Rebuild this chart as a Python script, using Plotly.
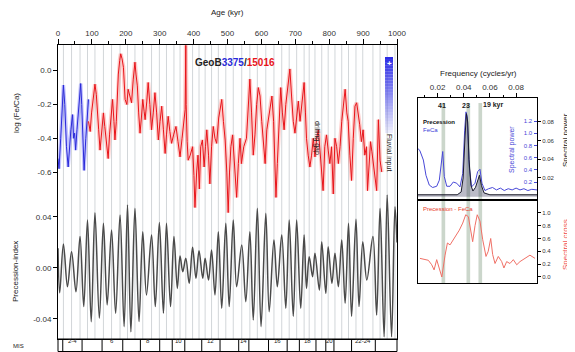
import plotly.graph_objects as go

# the page shows the figure with an 8 px body margin, so the figure fills the remaining area
OFF = 8
W, H = 575 - OFF, 352 - OFF

# ---------------- data ----------------
blue_age = [0, 3, 8, 13, 16, 20, 25, 30, 35, 38, 43, 46, 49, 52, 56, 60, 64, 67, 70, 74, 77, 82, 86, 90]
blue_val = [-0.52, -0.58, -0.40, -0.17, -0.085, -0.20, -0.45, -0.57, -0.42, -0.35, -0.26, -0.40, -0.37, -0.47,
            -0.35, -0.25, -0.14, -0.076, -0.20, -0.45, -0.59, -0.40, -0.25, -0.17]

red_age = [90, 95, 99, 104, 109, 113, 116, 120, 124, 128, 134, 138, 142, 148, 152, 156, 161, 165, 168, 172,
           178, 182, 185, 189, 193, 198, 203, 207, 212, 217, 222, 227, 230, 234, 238, 242, 246, 250, 254, 257,
           262, 266, 271, 276, 281, 286, 291, 296, 301, 306, 311, 316, 320, 325, 330, 335, 341, 348, 354, 360,
           366, 371, 375, 377, 378, 381, 384, 390, 397, 401, 404, 409, 413, 417, 421, 426, 431, 435, 439, 444,
           448, 453, 458, 463, 468, 474, 479, 483, 488, 493, 498, 502, 506, 510, 515, 520, 527, 532, 537, 541,
           548, 556, 562, 566, 571, 576, 581, 586, 591, 596, 601, 606, 611, 616, 621, 626, 631, 636, 640, 643,
           647, 652, 657, 662, 667, 672, 679, 684, 689, 694, 699, 704, 709, 714, 719, 726, 730, 733, 738, 743,
           748, 753, 758, 763, 768, 772, 777, 782, 787, 792, 797, 802, 807, 812, 817, 822, 827, 832, 837, 842,
           847, 852, 856, 861, 866, 871, 876, 881, 886, 890, 895, 900, 905, 910, 913, 918, 922, 926, 930, 935,
           940, 945, 950, 955]
red_val = [-0.30, -0.36, -0.25, -0.15, -0.08, -0.14, -0.21, -0.35, -0.47, -0.38, -0.25, -0.33, -0.41, -0.52,
           -0.38, -0.26, -0.17, -0.30, -0.41, -0.30, -0.02, 0.06, 0.10, 0.07, 0.02, -0.17, -0.20, -0.11, -0.15,
           -0.19, -0.05, 0.05, -0.02, -0.09, -0.25, -0.37, -0.28, -0.17, -0.24, -0.29, -0.18, -0.07, -0.20,
           -0.35, -0.25, -0.13, -0.25, -0.41, -0.30, -0.21, -0.35, -0.49, -0.38, -0.27, -0.36, -0.43, -0.38,
           -0.33, -0.42, -0.51, -0.40, -0.30, -0.23, 0.15, -0.20, -0.42, -0.53, -0.50, -0.45, -0.62, -0.81,
           -0.60, -0.50, -0.70, -0.45, -0.41, -0.57, -0.45, -0.35, -0.50, -0.67, -0.45, -0.33, -0.40, -0.43,
           -0.28, -0.22, -0.17, -0.30, -0.41, -0.60, -0.84, -0.60, -0.45, -0.38, -0.55, -0.75, -0.55, -0.40,
           -0.55, -0.45, -0.40, -0.20, -0.05, -0.25, -0.50, -0.38, -0.20, -0.10, -0.15, -0.30, -0.45, -0.55,
           -0.35, -0.28, -0.20, -0.15, -0.30, -0.55, -0.75, -0.55, -0.30, -0.10, -0.25, -0.35, -0.20, -0.05,
           0.01, -0.15, -0.30, -0.37, -0.25, -0.18, -0.30, -0.20, -0.07, -0.25, -0.40, -0.50, -0.57, -0.50,
           -0.40, -0.51, -0.40, -0.35, -0.45, -0.55, -0.71, -0.45, -0.38, -0.47, -0.55, -0.45, -0.73, -0.40,
           -0.45, -0.55, -0.45, -0.30, -0.18, -0.11, -0.25, -0.30, -0.50, -0.65, -0.40, -0.21, -0.19, -0.25,
           -0.32, -0.42, -0.35, -0.50, -0.45, -0.71, -0.55, -0.42, -0.48, -0.55, -0.60, -0.71, -0.29, -0.53,
           -0.60]

prec_age = [0, 5, 16, 28, 40, 53, 65, 76, 87, 98, 109, 122, 134, 145, 158, 170, 183, 195, 205, 215, 227, 239,
            250, 261, 276, 287, 299, 311, 320, 332, 342, 352, 360, 368, 377, 387, 397, 407, 416, 427, 434, 444,
            453, 463, 473, 483, 495, 505, 517, 527, 542, 554, 566, 576, 588, 599, 613, 623, 637, 647, 660, 672,
            682, 694, 704, 716, 726, 733, 741, 751, 758, 771, 778, 790, 797, 808, 817, 827, 837, 847, 857, 866,
            879, 888, 899, 911, 929, 940, 950, 962, 971, 984, 994, 1000]
prec_val = [0.0154, -0.0194, 0.0188, -0.0147, 0.0128, -0.0186, 0.0246, -0.0303, 0.0376, -0.0421, 0.0434,
            -0.0395, 0.035, -0.029, 0.0298, -0.0356, 0.0416, -0.046, 0.0494, -0.050, 0.0468, -0.042, 0.0285,
            -0.0212, 0.0259, -0.0303, 0.0356, -0.0356, 0.035, -0.0303, 0.0246, -0.016, 0.0094, -0.0029, 0.0076,
            -0.012, 0.0162, -0.0081, 0.0136, -0.0081, 0.0076, -0.0094, 0.0141, -0.0212, 0.0285, -0.0316, 0.035,
            -0.0303, 0.0376, -0.0147, 0.018, -0.0264, 0.0285, -0.0408, 0.0468, -0.046, 0.0429, -0.0343, 0.022,
            -0.0147, 0.0259, -0.0316, 0.0376, -0.038, 0.0376, -0.0316, 0.0259, -0.016, 0.0089, -0.0068, 0.0115,
            -0.0173, 0.0206, -0.0199, 0.0167, -0.012, 0.0115, -0.0147, 0.022, -0.0277, 0.035, -0.038, 0.0382,
            -0.0303, 0.0206, -0.0094, 0.0246, -0.0369, 0.0468, -0.054, 0.0573, -0.054, 0.048, 0.02]

mis_bounds = [14, 71, 130, 191, 243, 300, 337, 374, 424, 478, 533, 563, 621, 676, 712, 761, 790, 814, 866, 936]
mis_labels = ["2-4", "6", "8", "10", "12", "14", "16", "18", "20", "22-24"]
mis_label_age = [42, 160, 265, 355, 451, 548, 648, 736, 802, 901]

age_ticks = [0, 100, 200, 300, 400, 500, 600, 700, 800, 900, 1000]

# spectral panel
feca_f = [0.005, 0.0065, 0.0091, 0.0111, 0.0136, 0.0162, 0.0193, 0.0213, 0.0239, 0.0251, 0.027, 0.0295, 0.032,
          0.0346, 0.0371, 0.0392, 0.0407, 0.0417, 0.0427, 0.0442, 0.046, 0.0486, 0.0506, 0.0524, 0.0539, 0.0562,
          0.059, 0.062, 0.065, 0.068, 0.071, 0.074, 0.077, 0.080, 0.083, 0.086, 0.089, 0.092, 0.096]
feca_p = [0.75, 0.71, 0.56, 0.31, 0.15, 0.11, 0.13, 0.23, 0.70, 0.29, 0.13, 0.13, 0.20, 0.18, 0.12, 0.34, 1.05,
          1.35, 1.27, 0.45, 0.12, 0.18, 0.37, 0.41, 0.18, 0.06, 0.09, 0.11, 0.07, 0.10, 0.06, 0.09, 0.07, 0.10,
          0.07, 0.09, 0.06, 0.08, 0.07]
prec_f = [0.005, 0.02, 0.035, 0.038, 0.0395, 0.041, 0.042, 0.043, 0.044, 0.0455, 0.047, 0.049, 0.0505, 0.052,
          0.0535, 0.0555, 0.06, 0.096]
prec_p = [0.002, 0.002, 0.002, 0.005, 0.02, 0.065, 0.089, 0.08, 0.04, 0.012, 0.006, 0.01, 0.018, 0.023, 0.012,
          0.004, 0.002, 0.002]
coh_f = [0.0065, 0.0104, 0.0129, 0.0155, 0.0173, 0.0193, 0.0213, 0.0232, 0.0257, 0.0275, 0.0295, 0.032, 0.0346,
         0.0366, 0.0392, 0.0415, 0.0435, 0.0453, 0.0468, 0.0486, 0.0503, 0.0524, 0.0545, 0.057, 0.0587, 0.0606,
         0.0621, 0.0639, 0.0664, 0.069, 0.0707, 0.0728, 0.0753, 0.0779, 0.0805, 0.083, 0.0868, 0.0906, 0.0945]
coh_v = [0.29, 0.27, 0.26, 0.19, 0.11, 0.27, 0.14, 0.0, 0.34, 0.53, 0.50, 0.58, 0.68, 0.73, 0.84, 0.97, 0.94,
         0.73, 0.55, 0.80, 0.97, 0.87, 0.58, 0.32, 0.40, 0.60, 0.35, 0.21, 0.32, 0.24, 0.14, 0.24, 0.21, 0.27,
         0.19, 0.24, 0.29, 0.34, 0.29]
band_periods = [41, 23, 19]
freq_ticks = [0.02, 0.04, 0.06, 0.08]

# ---------------- helpers (screen pixel -> paper) ----------------
def px(x):
    return (x - OFF) / W

def py(y):
    return 1 - (y - OFF) / H

FONT = "Liberation Sans, Arial, sans-serif"
main_dom_x = [px(58), px(397)]
main_dom_y = [py(339), py(45)]

fig = go.Figure()

# Fe/Ca
fig.add_trace(go.Scatter(x=blue_age, y=blue_val, mode="lines", line=dict(color="rgba(60,60,255,0.3)", width=3.5),
                         xaxis="x", yaxis="y", hoverinfo="skip", showlegend=False))
fig.add_trace(go.Scatter(x=blue_age, y=blue_val, mode="lines", line=dict(color="#2a2ad8", width=1),
                         xaxis="x", yaxis="y", showlegend=False))
fig.add_trace(go.Scatter(x=red_age, y=red_val, mode="lines", line=dict(color="rgba(255,70,60,0.28)", width=4),
                         xaxis="x", yaxis="y", hoverinfo="skip", showlegend=False))
fig.add_trace(go.Scatter(x=red_age, y=red_val, mode="lines", line=dict(color="#e8141a", width=1),
                         xaxis="x", yaxis="y", showlegend=False))
# precession
fig.add_trace(go.Scatter(x=prec_age, y=prec_val, mode="lines", line=dict(color="#4a4a4a", width=1.5, shape="spline",
                         smoothing=1.0), xaxis="x", yaxis="y2", showlegend=False))

# spectra
fig.add_trace(go.Scatter(x=feca_f, y=feca_p, mode="lines", line=dict(color="#4848d8", width=1),
                         xaxis="x2", yaxis="y3", showlegend=False))
fig.add_trace(go.Scatter(x=prec_f, y=prec_p, mode="lines", line=dict(color="#1a1a2a", width=1),
                         fill="tozeroy", fillcolor="rgba(30,30,70,0.3)",
                         xaxis="x2", yaxis="y4", showlegend=False))
fig.add_trace(go.Scatter(x=coh_f, y=coh_v, mode="lines", line=dict(color="#f07066", width=1),
                         xaxis="x3", yaxis="y5", showlegend=False))

shapes = []
# vertical guide lines at precession maxima
for i in range(1, len(prec_age) - 1):
    if prec_val[i] > prec_val[i - 1] and prec_val[i] > prec_val[i + 1]:
        shapes.append(dict(type="line", xref="x", yref="paper", x0=prec_age[i], x1=prec_age[i],
                           y0=main_dom_y[0], y1=main_dom_y[1], line=dict(color="#d2d6d9", width=1), layer="below"))
# spectral bands
for p in band_periods:
    f = 1.0 / p
    shapes.append(dict(type="rect", xref="x2", yref="paper", x0=f - 0.0014, x1=f + 0.0014,
                       y0=py(283), y1=py(103), fillcolor="rgba(140,165,140,0.45)", line=dict(width=0), layer="below"))
# MIS row
shapes.append(dict(type="rect", xref="paper", yref="paper", x0=main_dom_x[0], x1=main_dom_x[1], y0=py(351.5),
                   y1=py(339), line=dict(color="black", width=1)))
for b in mis_bounds:
    shapes.append(dict(type="line", xref="x", yref="paper", x0=b, x1=b, y0=py(351.5), y1=py(339),
                       line=dict(color="black", width=1)))
# fluvial input gradient bar
n = 26
top, bot = 57, 133
for i in range(n):
    y0 = top + (bot - top) * i / n
    y1 = top + (bot - top) * (i + 1) / n
    a = 0.95 * (1 - i / n) + 0.05
    shapes.append(dict(type="rect", xref="paper", yref="paper", x0=px(385), x1=px(393), y0=py(y1), y1=py(y0),
                       fillcolor=f"rgba(45,45,230,{a:.3f})", line=dict(width=0)))

ann = []
def A(text, x, y, size=8, color="#222", angle=0, xanchor="center", yanchor="middle", bold=False):
    if bold:
        text = f"<b>{text}</b>"
    ann.append(dict(text=text, x=px(x), y=py(y), xref="paper", yref="paper", showarrow=False,
                    font=dict(size=size, color=color, family=FONT), textangle=angle,
                    xanchor=xanchor, yanchor=yanchor))

A("Age (kyr)", 227, 12, 8)
A("log (Fe/Ca)", 16, 113, 8, angle=-90)
A("Precession-index", 15, 272, 8, angle=-90)
A("GeoB<span style='color:#2a2ad8'>3375</span>/<span style='color:#e8141a'>15016</span>", 193, 62, 10,
  color="#222", xanchor="left", bold=True)
A("drilling gap", 317, 138, 7, angle=90)
A("+", 389, 63, 8, color="white", bold=True)
A("Fluvial input", 389, 152, 7, angle=90)
A("MIS", 18, 345.5, 6)
for lab, ag in zip(mis_labels, mis_label_age):
    ann.append(dict(text=lab, x=ag, y=py(345.5), xref="x", yref="paper", showarrow=False,
                    font=dict(size=6, color="#222", family=FONT)))

A("Frequency (cycles/yr)", 478, 73, 8)
A("41", 442, 105, 7, bold=True)
A("23", 466, 105, 7, bold=True)
A("19 kyr", 481, 105, 7, xanchor="left", bold=True)
A("Precession", 421, 122, 6, color="#111", xanchor="left", bold=True)
A("FeCa", 421, 130, 6, color="#3a3ad8", xanchor="left")
A("Spectral power", 512, 150, 7, color="#4848d8", angle=-90)
A("Spectral power", 565, 140, 8, color="#222", angle=-90)
A("Precession - FeCa", 421, 209, 6, color="#e83a2a", xanchor="left")
A("Spectral cross", 565, 245, 8, color="#f05050", angle=-90)

tickfont = dict(size=8, color="#333", family=FONT)

fig.update_layout(
    width=W, height=H, autosize=False, margin=dict(l=0, r=0, t=0, b=0, pad=0, autoexpand=False),
    paper_bgcolor="white", plot_bgcolor="white", showlegend=False,
    shapes=shapes, annotations=ann,
    xaxis=dict(domain=main_dom_x, range=[0, 1000], side="top", anchor="y", tickvals=age_ticks,
               ticks="outside", ticklen=5, tickwidth=1, tickcolor="black", tickfont=tickfont,
               minor=dict(dtick=50, tick0=0, ticks="outside", ticklen=3, tickcolor="black"),
               showline=True, linecolor="black", linewidth=1, mirror=True, showgrid=False, zeroline=False,
               automargin=False),
    yaxis=dict(domain=main_dom_y, range=[-1.588, 0.152], anchor="x", tickvals=[0, -0.2, -0.4, -0.6],
               ticktext=["0.0", "-0.2", "-0.4", "-0.6"], ticks="outside", ticklen=4, tickcolor="black",
               tickfont=tickfont, showline=True, linecolor="black", linewidth=1, mirror=True,
               showgrid=False, zeroline=False, automargin=False),
    yaxis2=dict(domain=main_dom_y, range=[-0.0557, 0.1749], overlaying="y", side="left", anchor="x",
                tickvals=[-0.04, 0, 0.04], ticktext=["-0.04", "0.00", "0.04"], ticks="outside", ticklen=4,
                tickcolor="black", tickfont=tickfont, showline=False, showgrid=False, zeroline=False,
                automargin=False),
    xaxis2=dict(domain=[px(418), px(537)], range=[0.005, 0.096], side="top", anchor="y3", tickvals=freq_ticks,
                ticktext=["0.02", "0.04", "0.06", "0.08"], ticks="outside", ticklen=4, tickcolor="black",
                tickfont=tickfont, minor=dict(dtick=0.01, tick0=0, ticks="outside", ticklen=2, tickcolor="black"),
                showline=True, linecolor="black", linewidth=1, mirror=True, showgrid=False, zeroline=False,
                automargin=False),
    yaxis3=dict(domain=[py(200), py(98)], range=[-0.095, 1.577], anchor="x2", side="right",
                tickvals=[0.2, 0.4, 0.6, 0.8, 1.0, 1.2], ticktext=["0.2", "0.4", "0.6", "0.8", "1.0", "1.2"],
                ticks="inside", ticklen=3, tickcolor="#4848d8", ticklabelposition="inside",
                tickfont=dict(size=6, color="#4848d8", family=FONT),
                showline=True, linecolor="black", linewidth=1, mirror=True, showgrid=False, zeroline=False,
                automargin=False),
    yaxis4=dict(domain=[py(200), py(98)], range=[-0.0036, 0.1057], overlaying="y3", anchor="x2", side="right",
                tickvals=[0.02, 0.04, 0.06, 0.08], ticktext=["0.02", "0.04", "0.06", "0.08"],
                ticks="outside", ticklen=3, tickcolor="black", tickfont=dict(size=6, color="#333", family=FONT),
                showline=False, showgrid=False, zeroline=False, automargin=False),
    xaxis3=dict(domain=[px(418), px(537)], range=[0.005, 0.096], anchor="y5", showticklabels=False,
                ticks="", showline=True, linecolor="black", linewidth=1, mirror=True, showgrid=False,
                zeroline=False, automargin=False),
    yaxis5=dict(domain=[py(283), py(200)], range=[-0.094, 1.2], anchor="x3", side="right",
                tickvals=[0, 0.2, 0.4, 0.6, 0.8, 1.0], ticktext=["0.0", "0.2", "0.4", "0.6", "0.8", "1.0"],
                ticks="outside", ticklen=3, tickcolor="black", tickfont=dict(size=6, color="#333", family=FONT),
                showline=True, linecolor="black", linewidth=1, mirror=True, showgrid=False, zeroline=False,
                automargin=False),
)

fig.write_html("out.html")
